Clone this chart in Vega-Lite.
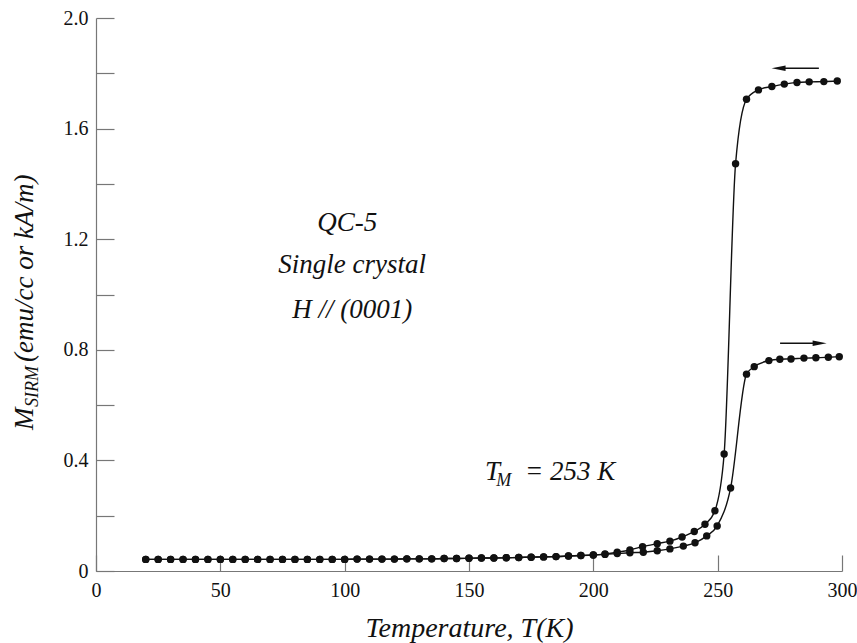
{
  "$schema": "https://vega.github.io/schema/vega-lite/v6.json",
  "width": 746,
  "height": 553,
  "autosize": {"type": "none"},
  "padding": {"left": 96, "top": 18, "right": 15, "bottom": 72},
  "background": "white",
  "config": {"view": {"stroke": null}, "font": "Liberation Serif"},
  "datasets": {
    "curves": [
      {"series": "cooling", "T": 20, "M": 0.042}, {"series": "cooling", "T": 25, "M": 0.042}, {"series": "cooling", "T": 30, "M": 0.042}, {"series": "cooling", "T": 35, "M": 0.042}, {"series": "cooling", "T": 40, "M": 0.042}, {"series": "cooling", "T": 45, "M": 0.042}, {"series": "cooling", "T": 50, "M": 0.042}, {"series": "cooling", "T": 55, "M": 0.042}, {"series": "cooling", "T": 60, "M": 0.042}, {"series": "cooling", "T": 65, "M": 0.042}, {"series": "cooling", "T": 70, "M": 0.042}, {"series": "cooling", "T": 75, "M": 0.042}, {"series": "cooling", "T": 80, "M": 0.042}, {"series": "cooling", "T": 85, "M": 0.042}, {"series": "cooling", "T": 90, "M": 0.042}, {"series": "cooling", "T": 95, "M": 0.042}, {"series": "cooling", "T": 100, "M": 0.042}, {"series": "cooling", "T": 105, "M": 0.043}, {"series": "cooling", "T": 110, "M": 0.043}, {"series": "cooling", "T": 115, "M": 0.043}, {"series": "cooling", "T": 120, "M": 0.043}, {"series": "cooling", "T": 125, "M": 0.044}, {"series": "cooling", "T": 130, "M": 0.044}, {"series": "cooling", "T": 135, "M": 0.044}, {"series": "cooling", "T": 140, "M": 0.045}, {"series": "cooling", "T": 145, "M": 0.045}, {"series": "cooling", "T": 150, "M": 0.046}, {"series": "cooling", "T": 155, "M": 0.047}, {"series": "cooling", "T": 160, "M": 0.047}, {"series": "cooling", "T": 165, "M": 0.048}, {"series": "cooling", "T": 170, "M": 0.049}, {"series": "cooling", "T": 175, "M": 0.05}, {"series": "cooling", "T": 180, "M": 0.051}, {"series": "cooling", "T": 185, "M": 0.052}, {"series": "cooling", "T": 190, "M": 0.054}, {"series": "cooling", "T": 195, "M": 0.056}, {"series": "cooling", "T": 200, "M": 0.058}, {"series": "cooling", "T": 204.7, "M": 0.062}, {"series": "cooling", "T": 209.6, "M": 0.068}, {"series": "cooling", "T": 214.7, "M": 0.076}, {"series": "cooling", "T": 219.8, "M": 0.088}, {"series": "cooling", "T": 225.7, "M": 0.099}, {"series": "cooling", "T": 230.8, "M": 0.108}, {"series": "cooling", "T": 235.7, "M": 0.123}, {"series": "cooling", "T": 240.6, "M": 0.143}, {"series": "cooling", "T": 244.9, "M": 0.169}, {"series": "cooling", "T": 248.9, "M": 0.218}, {"series": "cooling", "T": 252.6, "M": 0.423}, {"series": "cooling", "T": 257.2, "M": 1.473}, {"series": "cooling", "T": 261.6, "M": 1.706}, {"series": "cooling", "T": 266.4, "M": 1.74}, {"series": "cooling", "T": 271.8, "M": 1.752}, {"series": "cooling", "T": 276.8, "M": 1.761}, {"series": "cooling", "T": 281.9, "M": 1.767}, {"series": "cooling", "T": 286.8, "M": 1.769}, {"series": "cooling", "T": 292.7, "M": 1.77}, {"series": "cooling", "T": 298.1, "M": 1.772},
      {"series": "warming", "T": 20, "M": 0.042}, {"series": "warming", "T": 25, "M": 0.042}, {"series": "warming", "T": 30, "M": 0.042}, {"series": "warming", "T": 35, "M": 0.042}, {"series": "warming", "T": 40, "M": 0.042}, {"series": "warming", "T": 45, "M": 0.042}, {"series": "warming", "T": 50, "M": 0.042}, {"series": "warming", "T": 55, "M": 0.042}, {"series": "warming", "T": 60, "M": 0.042}, {"series": "warming", "T": 65, "M": 0.042}, {"series": "warming", "T": 70, "M": 0.042}, {"series": "warming", "T": 75, "M": 0.042}, {"series": "warming", "T": 80, "M": 0.042}, {"series": "warming", "T": 85, "M": 0.042}, {"series": "warming", "T": 90, "M": 0.042}, {"series": "warming", "T": 95, "M": 0.042}, {"series": "warming", "T": 100, "M": 0.042}, {"series": "warming", "T": 105, "M": 0.043}, {"series": "warming", "T": 110, "M": 0.043}, {"series": "warming", "T": 115, "M": 0.043}, {"series": "warming", "T": 120, "M": 0.043}, {"series": "warming", "T": 125, "M": 0.044}, {"series": "warming", "T": 130, "M": 0.044}, {"series": "warming", "T": 135, "M": 0.044}, {"series": "warming", "T": 140, "M": 0.045}, {"series": "warming", "T": 145, "M": 0.045}, {"series": "warming", "T": 150, "M": 0.046}, {"series": "warming", "T": 155, "M": 0.047}, {"series": "warming", "T": 160, "M": 0.047}, {"series": "warming", "T": 165, "M": 0.048}, {"series": "warming", "T": 170, "M": 0.049}, {"series": "warming", "T": 175, "M": 0.05}, {"series": "warming", "T": 180, "M": 0.051}, {"series": "warming", "T": 185, "M": 0.052}, {"series": "warming", "T": 190, "M": 0.054}, {"series": "warming", "T": 195, "M": 0.056}, {"series": "warming", "T": 200, "M": 0.058}, {"series": "warming", "T": 204.7, "M": 0.06}, {"series": "warming", "T": 209.6, "M": 0.063}, {"series": "warming", "T": 214.7, "M": 0.066}, {"series": "warming", "T": 220.1, "M": 0.068}, {"series": "warming", "T": 225.7, "M": 0.073}, {"series": "warming", "T": 230.8, "M": 0.08}, {"series": "warming", "T": 236.2, "M": 0.09}, {"series": "warming", "T": 240.9, "M": 0.102}, {"series": "warming", "T": 245.6, "M": 0.127}, {"series": "warming", "T": 249.8, "M": 0.163}, {"series": "warming", "T": 255.2, "M": 0.3}, {"series": "warming", "T": 261.6, "M": 0.712}, {"series": "warming", "T": 264.7, "M": 0.739}, {"series": "warming", "T": 270.6, "M": 0.761}, {"series": "warming", "T": 275, "M": 0.766}, {"series": "warming", "T": 279.5, "M": 0.767}, {"series": "warming", "T": 284.7, "M": 0.77}, {"series": "warming", "T": 289.5, "M": 0.771}, {"series": "warming", "T": 294.5, "M": 0.773}, {"series": "warming", "T": 298.9, "M": 0.775}
    ],
    "arrows": [
      {"dir": "left", "T": 274.5, "T2": 290.7, "M": 1.818},
      {"dir": "right", "T": 275.1, "T2": 291.0, "M": 0.8235}
    ],
    "notes": [
      {"label": "QC-5", "T": 101, "M": 1.23},
      {"label": "Single crystal", "T": 103, "M": 1.077},
      {"label": "H // (0001)", "T": 103, "M": 0.914}
    ],
    "tm_main": [
      {"label": "T", "T": 156.4, "M": 0.329},
      {"label": "= 253 K", "T": 172.5, "M": 0.329}
    ],
    "tm_sub": [
      {"label": "M", "T": 161.0, "M": 0.307}
    ],
    "ytitle_main": [
      {"label": "M", "T": -25.3, "M": 0.51},
      {"label": "(emu/cc or kA/m)", "T": -25.3, "M": 0.756}
    ],
    "ytitle_sub": [
      {"label": "SIRM", "T": -23.3, "M": 0.593}
    ]
  },
  "encoding": {
    "x": {
      "field": "T", "type": "quantitative",
      "scale": {"domain": [0, 300], "nice": false, "zero": false},
      "axis": {
        "values": [0, 50, 100, 150, 200, 250, 300],
        "tickSize": -16, "labelPadding": 25, "grid": false,
        "domainColor": "#777", "tickColor": "#777", "domainWidth": 1.2, "tickWidth": 1.2,
        "labelFont": "Liberation Serif", "labelFontSize": 20, "labelColor": "#111", "labelFlush": false,
        "title": "Temperature, T(K)", "titleFont": "Liberation Serif", "titleFontStyle": "italic",
        "titleFontWeight": "normal", "titleFontSize": 28, "titleColor": "#111",
        "titleY": 65, "titleBaseline": "alphabetic"
      }
    },
    "y": {
      "field": "M", "type": "quantitative",
      "scale": {"domain": [0, 2.0], "nice": false, "zero": false},
      "axis": {
        "values": [0, 0.2, 0.4, 0.6, 0.8, 1.0, 1.2, 1.4, 1.6, 1.8, 2.0],
        "labelExpr": "datum.value == 0 ? '0' : (round(datum.value * 10) % 4 == 0 ? format(datum.value, '.1f') : '')",
        "tickSize": -18, "labelPadding": 26, "grid": false,
        "domainColor": "#777", "tickColor": "#777", "domainWidth": 1.2, "tickWidth": 1.2,
        "labelFont": "Liberation Serif", "labelFontSize": 20, "labelColor": "#111", "labelFlush": false,
        "title": null
      }
    }
  },
  "layer": [
    {
      "data": {"name": "curves"},
      "mark": {"type": "line", "interpolate": "monotone", "color": "#111", "strokeWidth": 1.4},
      "encoding": {"detail": {"field": "series"}}
    },
    {
      "data": {"name": "curves"},
      "mark": {"type": "point", "filled": true, "color": "#111", "opacity": 1, "size": 55}
    },
    {
      "data": {"name": "arrows"},
      "mark": {"type": "rule", "color": "#111", "strokeWidth": 1.4},
      "encoding": {"x2": {"field": "T2"}}
    },
    {
      "data": {"name": "arrows"},
      "transform": [{"filter": "datum.dir == 'left'"}],
      "mark": {"type": "point", "filled": true, "color": "#111", "opacity": 1, "size": 196, "shape": "M-1,0L1,-0.4L1,0.4Z"}
    },
    {
      "data": {"name": "arrows"},
      "transform": [{"filter": "datum.dir == 'right'"}],
      "mark": {"type": "point", "filled": true, "color": "#111", "opacity": 1, "size": 196, "shape": "M1,0L-1,-0.4L-1,0.4Z"},
      "encoding": {"x": {"field": "T2", "type": "quantitative"}}
    },
    {
      "data": {"name": "notes"},
      "mark": {"type": "text", "font": "Liberation Serif", "fontStyle": "italic", "fontSize": 27, "align": "center", "baseline": "alphabetic", "color": "#111"},
      "encoding": {"text": {"field": "label"}}
    },
    {
      "data": {"name": "tm_main"},
      "mark": {"type": "text", "font": "Liberation Serif", "fontStyle": "italic", "fontSize": 27, "align": "left", "baseline": "alphabetic", "color": "#111"},
      "encoding": {"text": {"field": "label"}}
    },
    {
      "data": {"name": "tm_sub"},
      "mark": {"type": "text", "font": "Liberation Serif", "fontStyle": "italic", "fontSize": 18, "align": "left", "baseline": "alphabetic", "color": "#111"},
      "encoding": {"text": {"field": "label"}}
    },
    {
      "data": {"name": "ytitle_main"},
      "mark": {"type": "text", "font": "Liberation Serif", "fontStyle": "italic", "fontSize": 27, "align": "left", "baseline": "alphabetic", "angle": 270, "color": "#111"},
      "encoding": {"text": {"field": "label"}}
    },
    {
      "data": {"name": "ytitle_sub"},
      "mark": {"type": "text", "font": "Liberation Serif", "fontStyle": "italic", "fontSize": 18, "align": "left", "baseline": "alphabetic", "angle": 270, "color": "#111"},
      "encoding": {"text": {"field": "label"}}
    }
  ]
}
